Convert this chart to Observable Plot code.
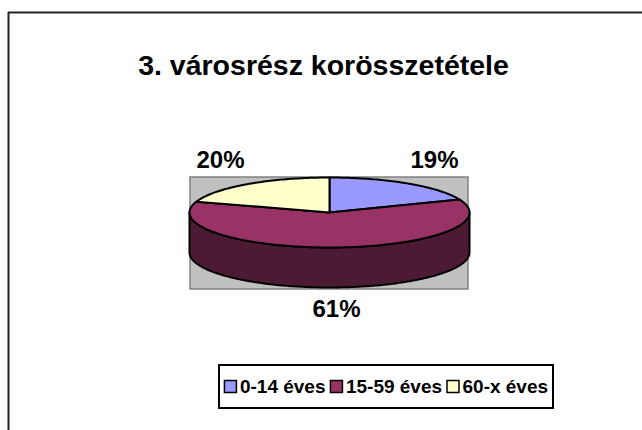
<!DOCTYPE html>
<html>
<head>
<meta charset="utf-8">
<script src="https://cdn.jsdelivr.net/npm/d3@7"></script>
<script src="https://cdn.jsdelivr.net/npm/@observablehq/plot@0.6"></script>
<style>
  html, body { margin: 0; padding: 0; background: #fff; }
  #chart svg { display: block; }
</style>
</head>
<body>
<div id="chart"></div>
<script>
// ---- data ----
const title = "3. városrész korösszetétele";
const categories = ["0-14 éves", "15-59 éves", "60-x éves"];
const values = [19, 61, 20];
const labels = ["19%", "61%", "20%"];
const colors = ["#9999FF", "#993366", "#FFFFCC"];
const sideColors = ["#4D4D80", "#4D1A33", "#808066"];

// ---- layout ----
const W = 642, H = 430;
const cx = 329, cy = 212, rx = 140, ry = 35, depth = 40;
const plotArea = {x1: 190, y1: 177, x2: 468, y2: 289};
const labelPos = [[434, 167], [336, 316], [220, 167]];
const font = "Liberation Sans, Arial, sans-serif";

const pie = d3.pie().sort(null).value(d => d)(values);
const pt = (a, dy = 0) => ({x: cx + rx * Math.sin(a), y: cy - ry * Math.cos(a) + dy});
function arcPts(a0, a1, dy = 0) {
  const n = Math.max(2, Math.ceil(Math.abs(a1 - a0) / (Math.PI / 180)));
  return d3.range(n + 1).map(i => pt(a0 + (a1 - a0) * i / n, dy));
}

// top faces
const tops = pie.map((s, i) => {
  const pts = [{x: cx, y: cy}, ...arcPts(s.startAngle, s.endAngle), {x: cx, y: cy}];
  return {pts, fill: colors[i]};
});
// visible side walls (front half)
const sides = [];
pie.forEach((s, i) => {
  const a0 = Math.max(s.startAngle, Math.PI / 2), a1 = Math.min(s.endAngle, 3 * Math.PI / 2);
  if (a1 > a0) {
    const top = arcPts(a0, a1), bot = arcPts(a1, a0, depth);
    sides.push({pts: [...top, ...bot, top[0]], fill: sideColors[i]});
  }
});

const polyMark = p => Plot.line(p.pts, {x: "x", y: "y", fill: p.fill, stroke: "#000", strokeWidth: 2, strokeLinejoin: "round"});

// legend layout measured from text
const ctx = document.createElement("canvas").getContext("2d");
const legFont = 19;
ctx.font = `bold ${legFont}px ${font}`;
const legBox = {x1: 219, y1: 365, x2: 553, y2: 408};
const sq = 12, gapSq = 3;
const widths = categories.map(c => ctx.measureText(c).width);
const itemW = widths.map(w => sq + gapSq + w);
const free = (legBox.x2 - legBox.x1) - d3.sum(itemW);
const pad = free / (categories.length + 1);
let xs = [], acc = legBox.x1 + pad;
itemW.forEach(w => { xs.push(acc); acc += w + pad; });
const legCy = (legBox.y1 + legBox.y2) / 2;
const legend = categories.map((c, i) => ({c, x: xs[i], fill: colors[i]}));

const chart = Plot.plot({
  width: W, height: H, margin: 0,
  x: {domain: [0, W], range: [0, W], axis: null},
  y: {domain: [0, H], range: [0, H], axis: null},
  style: {background: "#fff", fontFamily: font},
  marks: [
    // chart-area border (left & top visible)
    Plot.ruleX([8], {y1: 12, y2: H, stroke: "#222", strokeWidth: 2}),
    Plot.ruleY([12], {x1: 8, x2: W, stroke: "#222", strokeWidth: 2}),
    // title
    Plot.text([title], {x: 323, y: 74, text: d => d, fontSize: 28.5, fontWeight: "bold", fill: "#000", lineAnchor: "bottom"}),
    // plot area
    Plot.rect([plotArea], {x1: "x1", x2: "x2", y1: "y1", y2: "y2", fill: "#C0C0C0", stroke: "#808080", strokeWidth: 1.5}),
    // pie
    ...sides.map(polyMark),
    ...tops.map(polyMark),
    // data labels
    Plot.text(labels, {x: (d, i) => labelPos[i][0], y: (d, i) => labelPos[i][1], text: d => d, fontSize: 24, fontWeight: "bold", fill: "#000", lineAnchor: "bottom"}),
    // legend
    Plot.rect([legBox], {x1: "x1", x2: "x2", y1: "y1", y2: "y2", fill: "#fff", stroke: "#000", strokeWidth: 2}),
    Plot.rect(legend, {x1: d => d.x, x2: d => d.x + sq, y1: legCy - sq / 2, y2: legCy + sq / 2, fill: d => d.fill, stroke: "#000", strokeWidth: 1.5}),
    Plot.text(legend, {x: d => d.x + sq + gapSq, y: legCy, text: "c", textAnchor: "start", fontSize: legFont, fontWeight: "bold", fill: "#000"})
  ]
});
document.getElementById("chart").append(chart);
</script>
</body>
</html>
